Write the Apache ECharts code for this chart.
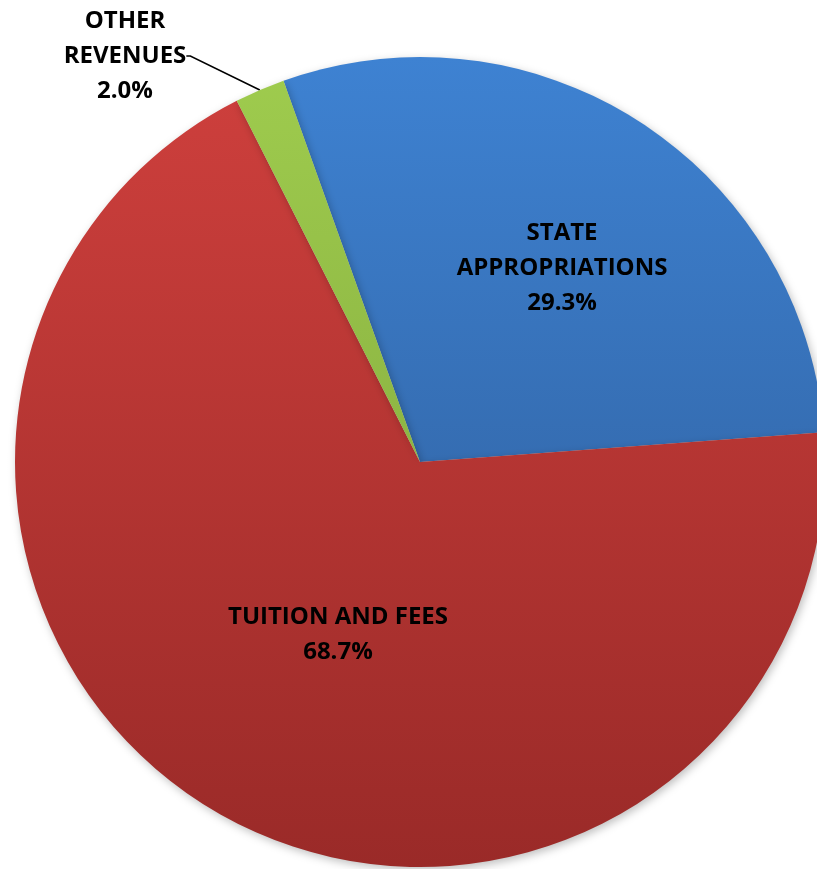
<!DOCTYPE html>
<html>
<head>
<meta charset="utf-8">
<script src="https://cdn.jsdelivr.net/npm/echarts@6/dist/echarts.min.js"></script>
<style>
html,body{margin:0;padding:0;background:#fff;}
#chart{width:817px;height:869px;}
</style>
</head>
<body>
<div id="chart"></div>
<script>
const categories = ['STATE\nAPPROPRIATIONS', 'TUITION AND FEES', 'OTHER\nREVENUES'];
const values = [29.3, 68.7, 2.0];
const topColors = ['#3e82d2', '#cf403d', '#9fcc4e'];
const bottomColors = ['#2c5892', '#9a2a28', '#7b9f38'];

const chart = echarts.init(document.getElementById('chart'));
const font = '"Open Sans", Lato, sans-serif';

function grad(i) {
  return {
    type: 'linear', x: 0, y: 57, x2: 0, y2: 867, global: true,
    colorStops: [{offset: 0, color: topColors[i]}, {offset: 1, color: bottomColors[i]}]
  };
}

const labelOffsets = [[30, -22], [19, -6], [0, 0]];

const data = categories.map((name, i) => {
  const item = {
    name: name,
    value: values[i],
    itemStyle: {color: grad(i)}
  };
  if (i < 2) {
    item.label = {position: 'inside', offset: labelOffsets[i]};
    item.labelLine = {show: false};
  } else {
    item.label = {position: 'outside'};
    item.labelLine = {show: true, length: 10, length2: 4, lineStyle: {color: '#000', width: 1.5}};
  }
  return item;
});

chart.setOption({
  animation: false,
  backgroundColor: '#ffffff',
  series: [{
    type: 'pie',
    center: [420, 462],
    radius: 405,
    startAngle: 109.7,
    clockwise: true,
    avoidLabelOverlap: false,
    data: data,
    itemStyle: {
      borderWidth: 0,
      shadowBlur: 8,
      shadowColor: 'rgba(0,0,0,0.25)',
      shadowOffsetX: 2,
      shadowOffsetY: 3
    },
    label: {
      show: true,
      formatter: p => p.name + '\n' + p.value.toFixed(1) + '%',
      fontFamily: font,
      fontWeight: 'bold',
      fontSize: 24,
      lineHeight: 35,
      color: '#000',
      align: 'center'
    },
    labelLayout: function (params) {
      if (params.dataIndex === 2) {
        return {x: 125, y: 56, align: 'center', verticalAlign: 'middle'};
      }
    }
  }]
});
</script>
</body>
</html>
